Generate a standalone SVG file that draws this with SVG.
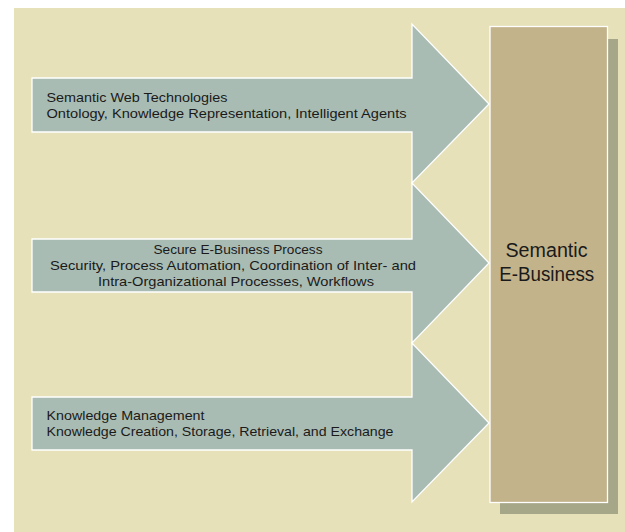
<svg xmlns="http://www.w3.org/2000/svg" width="625" height="532" viewBox="0 0 625 532">
<style>
.arrow{fill:#a9bcb3;stroke:#ffffff;stroke-width:1.3}
.lbl{font-family:"Liberation Sans",Arial,sans-serif;font-size:13.5px;fill:#1a1a1a}
.big{font-family:"Liberation Sans",Arial,sans-serif;font-size:19.5px;fill:#1a1a1a;text-anchor:middle}
</style>
<rect x="0" y="0" width="625" height="532" fill="#ffffff"/>
<rect x="14" y="8" width="611" height="524" fill="#e6e1b9"/>
<g id="connectors">
<g id="arrow-semantic-web">
<polygon class="arrow" points="32,78 412,78 412,24 489,104 412,183 412,132 32,132"/>
<text class="lbl" x="46.5" y="101.5" textLength="181" lengthAdjust="spacingAndGlyphs">Semantic Web Technologies</text>
<text class="lbl" x="46.5" y="117.5" textLength="360" lengthAdjust="spacingAndGlyphs">Ontology, Knowledge Representation, Intelligent Agents</text>
</g>
<g id="arrow-secure-ebusiness">
<polygon class="arrow" points="32,239 412,239 412,183 489,263 412,343 412,292 32,292"/>
<text class="lbl" x="238" y="254" text-anchor="middle" textLength="169" lengthAdjust="spacingAndGlyphs">Secure E-Business Process</text>
<text class="lbl" x="233" y="270" text-anchor="middle" textLength="366" lengthAdjust="spacingAndGlyphs">Security, Process Automation, Coordination of Inter- and</text>
<text class="lbl" x="236" y="285.5" text-anchor="middle" textLength="276" lengthAdjust="spacingAndGlyphs">Intra-Organizational Processes, Workflows</text>
</g>
<g id="arrow-knowledge">
<polygon class="arrow" points="32,397 412,397 412,343 489,423 412,502 412,450 32,450"/>
<text class="lbl" x="46.5" y="419.5" textLength="158" lengthAdjust="spacingAndGlyphs">Knowledge Management</text>
<text class="lbl" x="46.5" y="436" textLength="347" lengthAdjust="spacingAndGlyphs">Knowledge Creation, Storage, Retrieval, and Exchange</text>
</g>
</g>
<g id="semantic-ebusiness">
<rect x="500" y="39" width="118" height="475" fill="#a6a689"/>
<rect x="490" y="26.5" width="117.5" height="476" fill="#c3b38b" stroke="#ffffff" stroke-width="1.3"/>
<text class="big" x="546.5" y="256.5" textLength="82" lengthAdjust="spacingAndGlyphs">Semantic</text>
<text class="big" x="546.7" y="280.5" textLength="95" lengthAdjust="spacingAndGlyphs">E-Business</text>
</g>
</svg>
